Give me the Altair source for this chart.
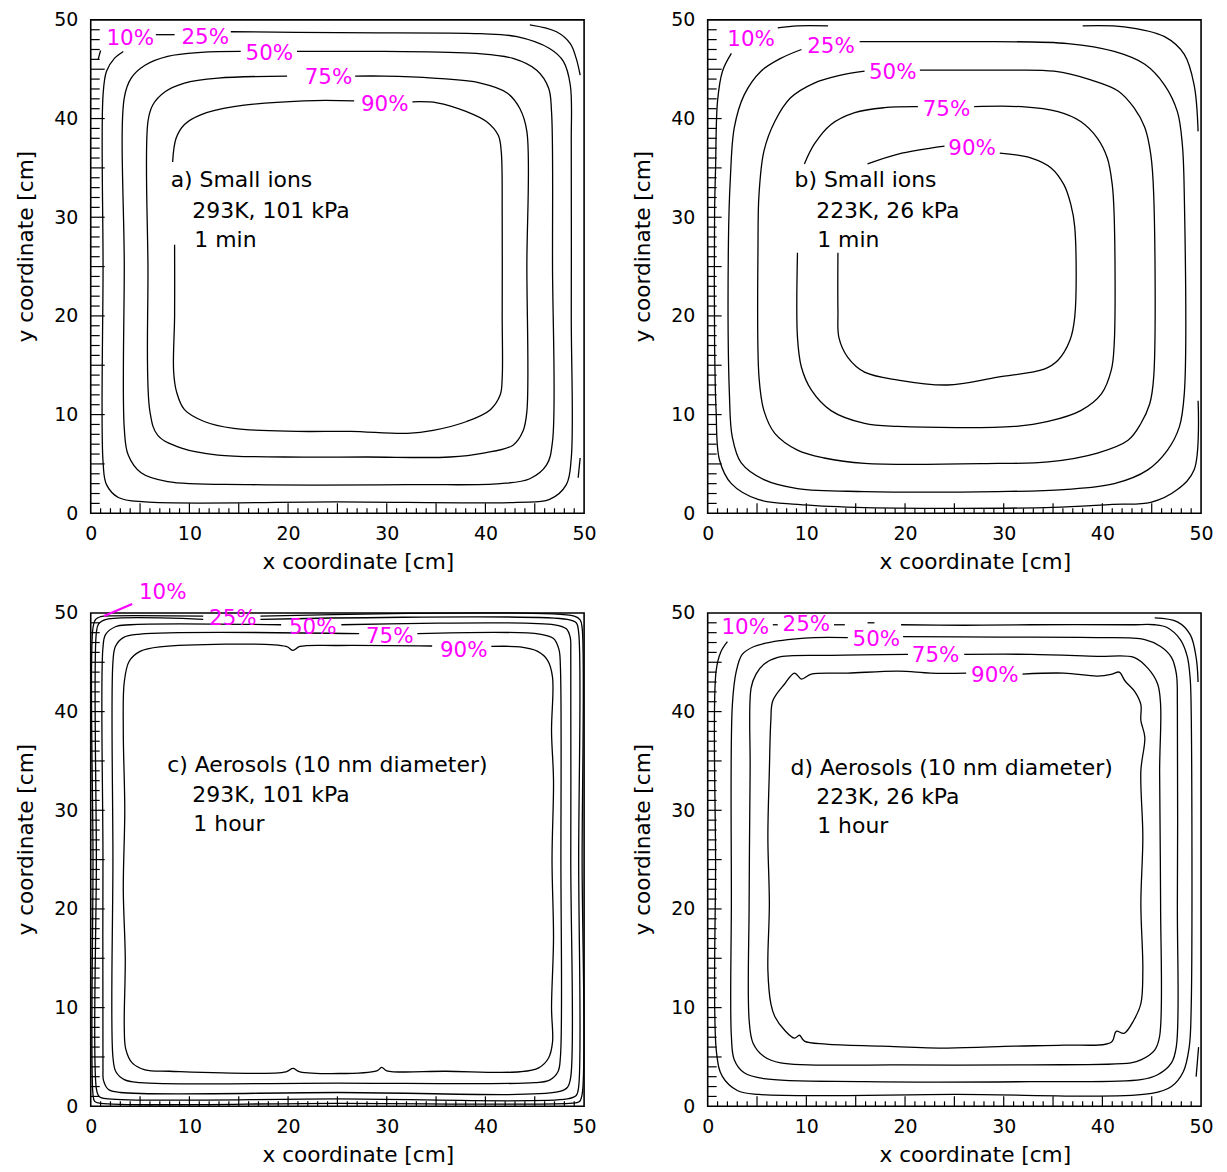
import altair as alt
import pandas as pd

# ---------------- axis ticks / labels ----------------
TICK_LABELS = [0, 10, 20, 30, 40, 50]
MAJOR_TICKS = [5, 10, 15, 20, 25, 30, 35, 40, 45]
MINOR_TICKS = [1, 2, 3, 4, 6, 7, 8, 9, 11, 12, 13, 14, 16, 17, 18, 19, 21, 22, 23, 24,
               26, 27, 28, 29, 31, 32, 33, 34, 36, 37, 38, 39, 41, 42, 43, 44, 46, 47, 48, 49]

# ---------------- panel a: small ions, 293K, 101 kPa, 1 min ----------------
A_90 = [
    [(32.6, 41.7), (35.1, 41.6), (38.1, 40.7), (40.1, 39.7), (41.3, 38.3), (41.6, 36.7), (41.7, 30), (41.7, 20),
     (41.7, 13.7), (41.5, 12.0), (40.5, 10.5), (38.1, 9.3), (34.7, 8.4), (32.1, 8.1), (26.3, 8.3), (20.9, 8.3),
     (14.5, 8.6), (11.5, 9.3), (9.5, 10.5), (8.7, 12.3), (8.4, 14.4), (8.5, 20), (8.5, 27.2)],
    [(8.3, 35.6), (8.65, 38.0), (9.5, 39.4), (11.2, 40.4), (14.5, 41.2), (21.6, 41.8), (26.7, 41.8)],
]
A_75 = [
    [(26.8, 44.3), (29.7, 44.3), (34.7, 44.1), (39.5, 43.6), (42.2, 42.6), (43.5, 41.0), (44.2, 38.7), (44.2, 25),
     (44.2, 10.3), (43.8, 8.3), (42.8, 6.9), (39.8, 6.1), (36.4, 5.7), (28.0, 5.7), (19.6, 5.7), (12.9, 5.9),
     (9.2, 6.6), (6.8, 7.9), (6.0, 10.3), (5.8, 25), (5.8, 39.7), (6.3, 41.4), (7.5, 42.7), (9.5, 43.6),
     (12.9, 44.1), (19.9, 44.3)],
]
A_50 = [
    [(20.9, 46.8), (29.7, 46.8), (39.1, 46.6), (42.8, 46.1), (45.2, 44.9), (46.4, 43.1), (46.7, 40.7), (46.8, 25),
     (46.8, 7.3), (46.2, 4.9), (44.5, 3.5), (41.5, 3.0), (33.1, 2.9), (16.2, 2.9), (7.8, 3.2), (5.1, 4.1),
     (3.8, 5.9), (3.4, 8.6), (3.4, 25), (3.4, 42.1), (4.1, 44.1), (5.5, 45.4), (7.8, 46.3), (11.2, 46.7),
     (15.2, 46.8)],
]
A_25 = [
    [(14.2, 48.8), (25, 48.7), (39.5, 48.6), (43.2, 48.3), (46.5, 47.1), (47.9, 45.8), (48.6, 43.4), (48.7, 37.3),
     (48.7, 20), (48.7, 5.6), (48.2, 2.9), (46.5, 1.4), (43.2, 1.1), (25, 1.15), (5.5, 1.15), (2.8, 1.6),
     (1.6, 2.9), (1.25, 5.2), (1.25, 25), (1.25, 42.4), (1.6, 44.8), (2.4, 46.1), (3.3, 46.8)],
    [(6.6, 48.5), (8.5, 48.5)],
]
A_10 = [
    [(44.5, 49.5), (47.2, 48.8), (48.6, 47.6), (49.2, 46.1), (49.6, 44.4)],
    [(0.75, 46.0), (1.0, 46.9)],
    [(49.6, 5.6), (49.4, 3.6)],
]
A_LABELS = [("10%", 4.0, 48.1), ("25%", 11.6, 48.2), ("50%", 18.1, 46.5), ("75%", 24.1, 44.1), ("90%", 29.8, 41.4)]
A_TEXT = [("a) Small ions", 8.1, 33.75), ("293K, 101 kPa", 10.3, 30.6), ("1 min", 10.5, 27.7)]

# ---------------- panel b: small ions, 223K, 26 kPa, 1 min ----------------
B_90 = [
    [(29.6, 36.5), (32.8, 36.0), (34.8, 35.0), (36.1, 33.3), (36.8, 31.3), (37.2, 29.0), (37.2, 19.9), (36.7, 17.5),
     (35.5, 15.5), (34.1, 14.6), (29.4, 13.8), (24.3, 13.0), (19.3, 13.5), (15.9, 14.3), (14.2, 15.8),
     (13.3, 17.8), (13.2, 20.5), (13.2, 26.4)],
    [(16.2, 35.4), (19.3, 36.4), (24.0, 37.2)],
]
B_75 = [
    [(27.0, 41.2), (31.8, 41.2), (35.5, 40.7), (37.8, 39.7), (39.5, 38.0), (40.5, 36.0), (41.0, 33.3), (41.2, 30.0),
     (41.2, 17.2), (40.9, 14.5), (39.9, 12.1), (37.8, 10.4), (34.5, 9.3), (31.1, 8.8), (19.3, 8.8), (15.9, 9.1),
     (12.5, 10.4), (10.5, 12.5), (9.5, 14.8), (9.1, 17.8), (9.1, 26.4)],
    [(9.8, 35.4), (10.8, 37.4), (12.5, 39.4), (14.9, 40.6), (17.9, 41.1), (21.3, 41.2)],
]
B_50 = [
    [(21.5, 44.9), (29.4, 44.9), (35.1, 44.8), (38.9, 43.9), (41.6, 42.8), (43.2, 41.1), (44.3, 39.1), (44.9, 36.4),
     (45.2, 32.3), (45.2, 13.8), (44.8, 11.1), (43.9, 9.1), (42.6, 7.4), (39.5, 6.1), (34.5, 5.2), (29.4, 5.05),
     (15.9, 5.05), (11.8, 5.6), (9.1, 6.4), (6.8, 8.1), (5.7, 10.4), (5.2, 13.8), (5.1, 27.3), (5.2, 32.3),
     (5.7, 36.7), (6.8, 39.7), (8.4, 42.1), (10.8, 43.6), (13.5, 44.4), (15.9, 44.8)],
]
B_25 = [
    [(15.4, 47.8), (23.3, 47.8), (27.0, 47.8), (36.5, 47.6), (41.2, 46.8), (44.3, 45.5), (46.3, 43.4), (47.6, 40.7),
     (48.1, 37.4), (48.3, 32.3), (48.3, 12.1), (47.8, 8.75), (46.6, 6.4), (44.6, 4.4), (41.2, 3.0), (36.1, 2.4),
     (29.4, 2.2), (15.9, 2.2), (9.1, 2.5), (5.7, 3.4), (3.4, 5.1), (2.5, 7.7), (2.2, 12.1), (2.1, 27.3),
     (2.3, 34.0), (2.7, 39.1), (3.7, 42.4), (5.4, 44.8), (7.4, 46.1), (9.5, 47.0)],
]
B_10 = [
    [(7.1, 49.2), (9.1, 49.4), (12.2, 49.4)],
    [(38.0, 49.4), (42.2, 49.3), (46.3, 48.3), (48.3, 46.5), (49.3, 43.4), (49.7, 38.7)],
    [(2.4, 46.6), (1.5, 44.8), (1.0, 41.8), (0.8, 35), (0.7, 30.6), (0.7, 17.2), (0.85, 10.4), (1.2, 5.4),
     (2.4, 3.0), (5.1, 1.4), (9.1, 0.9), (15, 0.6), (25, 0.5), (35, 0.6), (41, 0.9), (44.9, 1.1), (47.6, 2.4),
     (49.3, 4.4), (49.7, 11.4)],
]
B_LABELS = [("10%", 4.4, 48.0), ("25%", 12.5, 47.3), ("50%", 18.75, 44.6), ("75%", 24.2, 40.9), ("90%", 26.8, 36.9)]
B_TEXT = [("b) Small ions", 8.8, 33.75), ("223K, 26 kPa", 11.0, 30.6), ("1 min", 11.1, 27.7)]

# ---------------- panel c: aerosols, 293K, 101 kPa, 1 hour ----------------
C_90 = [
    [(40.6, 46.6), (43.5, 46.55), (45.3, 46.1), (46.3, 45.2), (46.8, 43.5), (46.7, 38), (46.9, 33), (46.75, 25),
     (46.9, 17), (46.7, 10), (46.8, 6.5), (46.4, 4.9), (45.4, 3.9), (43.5, 3.5), (36, 3.55), (30.0, 3.6),
     (29.5, 3.95), (29.0, 3.6), (21.2, 3.5), (20.5, 3.85), (19.8, 3.5), (8, 3.55), (5.5, 3.7), (4.2, 4.4),
     (3.55, 5.8), (3.4, 8), (3.5, 15), (3.3, 22), (3.45, 30), (3.3, 38), (3.4, 43), (3.9, 45.1), (5.0, 46.1),
     (7, 46.55), (19.8, 46.6), (20.5, 46.2), (21.2, 46.6), (25, 46.7), (34.6, 46.65)],
]
C_75 = [
    [(33.1, 47.9), (45.5, 47.85), (46.9, 47.4), (47.45, 46.3), (47.6, 44.5), (47.65, 25), (47.6, 5), (47.35, 3.5),
     (46.5, 2.65), (45, 2.4), (25, 2.35), (5, 2.4), (3.4, 2.7), (2.55, 3.5), (2.25, 5), (2.25, 25), (2.25, 45),
     (2.5, 46.6), (3.3, 47.5), (5, 47.85), (27.2, 47.9)],
]
C_50 = [
    [(25.4, 48.8), (47, 48.8), (48.2, 48.4), (48.6, 47.5), (48.65, 46), (48.65, 25), (48.65, 3), (48.3, 1.9),
     (47.3, 1.45), (25, 1.4), (3, 1.4), (1.8, 1.7), (1.3, 2.6), (1.24, 4), (1.24, 25), (1.24, 46.5), (1.5, 47.8),
     (2.5, 48.6), (4, 48.8), (19.3, 48.8)],
]
C_25 = [
    [(17.2, 49.35), (48.3, 49.35), (49.2, 49.0), (49.45, 48), (49.45, 25), (49.45, 2), (49.2, 1.1), (48.3, 0.75),
     (25, 0.75), (1.8, 0.75), (0.85, 1.0), (0.57, 1.8), (0.57, 25), (0.57, 48), (0.8, 48.9), (1.6, 49.35),
     (11.4, 49.35)],
]
C_10 = [
    [(17.2, 49.68), (49, 49.68), (49.6, 49.3), (49.8, 48.5), (49.8, 25), (49.8, 1.2), (49.5, 0.45), (48.5, 0.3),
     (25, 0.3), (1, 0.3), (0.4, 0.5), (0.23, 1.2), (0.23, 25), (0.23, 48.5), (0.5, 49.35), (1.0, 49.62),
     (1.4, 49.68), (11.4, 49.68)],
]
C_LEADER = [(1.35, 49.7), (4.2, 50.9)]
C_LABELS = [("10%", 7.3, 52.0), ("25%", 14.4, 49.4), ("50%", 22.5, 48.5), ("75%", 30.3, 47.6), ("90%", 37.8, 46.1)]
C_TEXT = [("c) Aerosols (10 nm diameter)", 7.75, 34.6), ("293K, 101 kPa", 10.3, 31.5), ("1 hour", 10.4, 28.6)]

# ---------------- panel d: aerosols, 223K, 26 kPa, 1 hour ----------------
D_90 = [
    [(31.9, 43.8), (36.1, 43.9), (39.5, 43.6), (41.0, 43.8), (41.7, 44.0), (42.3, 43.1), (43.3, 42.0), (43.9, 40.7),
     (43.9, 39.1), (44.3, 37.4), (43.9, 34.0), (44.1, 27.3), (43.9, 20.5), (44.1, 13.8), (43.9, 10.4),
     (43.2, 8.75), (42.2, 7.4), (41.4, 7.6), (40.9, 6.5), (36.1, 6.2), (31.1, 6.1), (24.3, 5.9), (17.6, 6.1),
     (12, 6.3), (9.8, 6.6), (9.3, 7.2), (8.8, 6.9), (7.8, 7.7), (6.8, 9.1), (6.4, 10.4), (6.1, 13.8),
     (6.25, 20.5), (6.1, 27.3), (6.25, 34.0), (6.4, 39.1), (6.6, 41.1), (7.8, 42.8), (8.8, 43.9), (9.5, 43.3),
     (10.5, 43.8), (14.2, 43.9), (19.3, 44.1), (22.6, 43.9), (26.2, 43.9)],
]
D_75 = [
    [(26.0, 45.8), (32.8, 45.8), (39.5, 45.6), (43.2, 45.5), (44.6, 44.4), (45.6, 42.8), (45.9, 40.7), (45.8, 34.0),
     (45.9, 20.5), (45.8, 7.1), (45.3, 5.7), (43.9, 4.7), (42.9, 4.4), (32.8, 4.2), (19.3, 4.2), (7.4, 4.4),
     (5.7, 5.05), (4.6, 6.4), (4.2, 8.75), (4.2, 20.5), (4.3, 34.0), (4.4, 42.4), (4.9, 43.8), (5.7, 44.8),
     (7.1, 45.5), (12.5, 45.7), (20.3, 45.8)],
]
D_50 = [
    [(19.8, 47.6), (29.4, 47.55), (39.5, 47.5), (44.3, 47.3), (45.9, 46.6), (47.0, 45.5), (47.5, 43.8),
     (47.6, 40.7), (47.6, 20.5), (47.5, 6.1), (47.0, 4.4), (45.6, 3.2), (43.9, 2.7), (32.8, 2.5), (15.9, 2.5),
     (5.7, 2.8), (3.7, 3.4), (2.7, 4.7), (2.4, 7.1), (2.4, 20.5), (2.5, 40.7), (2.9, 44.1), (3.5, 45.8),
     (4.7, 46.6), (7.4, 47.2), (10.8, 47.5), (14.2, 47.5)],
]
D_25 = [
    [(19.6, 48.8), (26, 48.75), (32.8, 48.8), (42.9, 48.8), (45.3, 48.8), (46.6, 48.5), (47.9, 47.3), (48.6, 45.6),
     (48.9, 43.3), (49.0, 40), (49.0, 10), (48.8, 6), (48.2, 3.5), (47, 2), (45, 1.3), (25, 1.2), (5.2, 1.2),
     (3.0, 1.6), (1.5, 3.0), (0.9, 5.4), (0.8, 25), (0.85, 44.1), (1.35, 46.1), (2.0, 47.1)],
    [(12.8, 48.8), (13.9, 48.8)],
    [(16.2, 49.0), (16.9, 49.0)],
    [(6.6, 48.8), (7.1, 48.8)],
]
D_10 = [
    [(45.3, 49.5), (47.6, 49.1), (48.9, 47.8), (49.5, 45.5), (49.7, 43.0)],
    [(49.75, 6.0), (49.5, 3.0)],
]
D_LABELS = [("10%", 3.8, 48.5), ("25%", 10.0, 48.8), ("50%", 17.1, 47.3), ("75%", 23.1, 45.6), ("90%", 29.1, 43.6)]
D_TEXT = [("d) Aerosols (10 nm diameter)", 8.4, 34.3), ("223K, 26 kPa", 11.0, 31.3), ("1 hour", 11.1, 28.4)]

# ---------------- building ----------------
W = H = 495
FONT = "DejaVu Sans"
MAGENTA = "#ff00ff"

xscale = alt.Scale(domain=[0, 50], nice=False, zero=False)
yscale = alt.Scale(domain=[0, 50], nice=False, zero=False)


def X(field="x"):
    return alt.X(f"{field}:Q", scale=xscale,
                 axis=alt.Axis(values=TICK_LABELS, title="x coordinate [cm]", titleX=268, format="d"))


def Y(field="y"):
    return alt.Y(f"{field}:Q", scale=yscale,
                 axis=alt.Axis(values=TICK_LABELS, title="y coordinate [cm]", titleY=227, format="d"))


def lines_df(contours):
    rows = []
    for level, segs in contours:
        for si, seg in enumerate(segs):
            for i, (x, y) in enumerate(seg):
                rows.append({"seg": f"{level}-{si}", "i": i, "x": x, "y": y})
    return pd.DataFrame(rows)


def panel(contours, labels, texts, leader=None):
    ldf = lines_df(contours)
    layers = []
    layers.append(
        alt.Chart(ldf).mark_line(color="black", strokeWidth=1.3, interpolate="catmull-rom").encode(
            x=X(), y=Y(), detail="seg:N", order="i:Q")
    )
    if leader is not None:
        lead = pd.DataFrame([{"i": i, "x": x, "y": y} for i, (x, y) in enumerate(leader)])
        layers.append(alt.Chart(lead).mark_line(color=MAGENTA, strokeWidth=2.2).encode(
            x=X(), y=Y(), order="i:Q"))
    lab = pd.DataFrame([{"t": t, "x": x, "y": y} for t, x, y in labels])
    layers.append(alt.Chart(lab).mark_text(font=FONT, fontSize=21.5, color=MAGENTA, align="center",
                                           baseline="middle").encode(x=X(), y=Y(), text="t:N"))
    txt = pd.DataFrame([{"t": t, "x": x, "y": y} for t, x, y in texts])
    layers.append(alt.Chart(txt).mark_text(font=FONT, fontSize=22, color="black", align="left",
                                           baseline="middle").encode(x=X(), y=Y(), text="t:N"))
    # inward ticks on bottom and left
    maj = pd.DataFrame({"x": MAJOR_TICKS, "y": MAJOR_TICKS})
    mnr = pd.DataFrame({"x": MINOR_TICKS, "y": MINOR_TICKS})
    layers.append(alt.Chart(maj).mark_rule(color="black", strokeWidth=1.2).encode(
        x=X(), y=alt.value(H), y2=alt.value(H - 10)))
    layers.append(alt.Chart(mnr).mark_rule(color="black", strokeWidth=1.2).encode(
        x=X(), y=alt.value(H), y2=alt.value(H - 5)))
    layers.append(alt.Chart(maj).mark_rule(color="black", strokeWidth=1.2).encode(
        y=Y(), x=alt.value(0), x2=alt.value(14)))
    layers.append(alt.Chart(mnr).mark_rule(color="black", strokeWidth=1.2).encode(
        y=Y(), x=alt.value(0), x2=alt.value(9)))
    return alt.layer(*layers).properties(width=W, height=H)


pa = panel([("10", A_10), ("25", A_25), ("50", A_50), ("75", A_75), ("90", A_90)], A_LABELS, A_TEXT)
pb = panel([("10", B_10), ("25", B_25), ("50", B_50), ("75", B_75), ("90", B_90)], B_LABELS, B_TEXT)
pc = panel([("10", C_10), ("25", C_25), ("50", C_50), ("75", C_75), ("90", C_90)], C_LABELS, C_TEXT, C_LEADER)
pd_ = panel([("10", D_10), ("25", D_25), ("50", D_50), ("75", D_75), ("90", D_90)], D_LABELS, D_TEXT)

chart = alt.concat(pa, pb, pc, pd_, columns=2, spacing={"row": 100, "column": 124}, bounds="flush").properties(
    padding={"left": 7, "top": 0, "right": 5, "bottom": 5}, background="white"
).configure_view(
    stroke="black", strokeWidth=1.6
).configure_axis(
    grid=False, domain=False, ticks=False, labelFont=FONT, labelFontSize=19, labelColor="black",
    titleFont=FONT, titleFontSize=21.7, titleFontWeight="normal", titleColor="black",
    labelFlush=False, labelOverlap=False, labelBound=False
).configure_axisX(
    labelPadding=11, titlePadding=8
).configure_axisY(
    labelPadding=13, titlePadding=16
)

chart.save("out.html", embed_options={"renderer": "svg", "actions": False})
